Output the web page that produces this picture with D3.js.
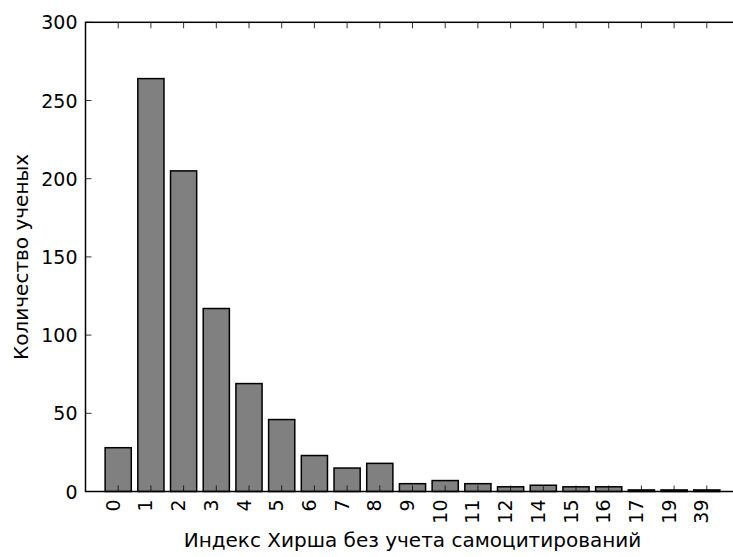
<!DOCTYPE html>
<html>
<head>
<meta charset="utf-8">
<script src="https://cdn.jsdelivr.net/npm/d3@7"></script>
<style>
  body { margin: 0; background: #fff; }
  svg text { font-family: "DejaVu Sans", sans-serif; fill: #000; }
</style>
</head>
<body>
<div id="chart"></div>
<script>
// Hirsch index histogram (without self-citations)

var categories = ["0", "1", "2", "3", "4", "5", "6", "7", "8", "9",
                  "10", "11", "12", "14", "15", "16", "17", "19", "39"];
var counts = [28, 264, 205, 117, 69, 46, 23, 15, 18, 5,
              7, 5, 3, 4, 3, 3, 1, 1, 1];
var yTicks = [0, 50, 100, 150, 200, 250, 300];

var width = 733, height = 557;
// note: "top" is taken by window.top, so plot edges get their own names
var plotLeft = 85.5, plotRight = 739.5, plotTop = 22.3, plotBottom = 491.5;

var svg = d3.select("#chart")
    .append("svg")
    .attr("width", width)
    .attr("height", height);

// x by bar index, y by count
var x = d3.scaleLinear().domain([-1, categories.length]).range([plotLeft, plotRight]);
var y = d3.scaleLinear().domain([0, 300]).range([plotBottom, plotTop]);
var barW = x(0.8) - x(0);

// bars
svg.selectAll("rect.bar")
    .data(counts)
    .enter()
    .append("rect")
    .attr("class", "bar")
    .attr("x", function(d, i) { return x(i) - barW / 2; })
    .attr("y", function(d) { return y(d); })
    .attr("width", barW)
    .attr("height", function(d) { return y(0) - y(d); })
    .style("fill", "#808080")
    .style("stroke", "#000")
    .style("stroke-width", 1.5);

// ticks, inward on all sides (classic style)
var tickLen = 6;
d3.range(categories.length).forEach(function(i) {
    svg.append("line")
        .attr("x1", x(i)).attr("x2", x(i))
        .attr("y1", plotBottom).attr("y2", plotBottom - tickLen)
        .style("stroke", "#000").style("stroke-width", 0.8);
    svg.append("line")
        .attr("x1", x(i)).attr("x2", x(i))
        .attr("y1", plotTop).attr("y2", plotTop + tickLen)
        .style("stroke", "#000").style("stroke-width", 0.8);
});
yTicks.forEach(function(v) {
    svg.append("line")
        .attr("x1", plotLeft).attr("x2", plotLeft + tickLen)
        .attr("y1", y(v)).attr("y2", y(v))
        .style("stroke", "#000").style("stroke-width", 0.8);
    svg.append("line")
        .attr("x1", plotRight).attr("x2", plotRight - tickLen)
        .attr("y1", y(v)).attr("y2", y(v))
        .style("stroke", "#000").style("stroke-width", 0.8);
});

// frame
svg.append("rect")
    .attr("x", plotLeft).attr("y", plotTop)
    .attr("width", plotRight - plotLeft).attr("height", plotBottom - plotTop)
    .style("fill", "none")
    .style("stroke", "#000")
    .style("stroke-width", 1.5);

// tick labels
svg.selectAll("text.xtick")
    .data(categories)
    .enter()
    .append("text")
    .attr("class", "xtick")
    .attr("transform", function(d, i) {
        return "translate(" + (x(i) + 1.5) + "," + (plotBottom + 8) + ") rotate(-90)";
    })
    .attr("text-anchor", "end")
    .style("font-size", "19px")
    .text(function(d) { return d; });

svg.selectAll("text.ytick")
    .data(yTicks)
    .enter()
    .append("text")
    .attr("class", "ytick")
    .attr("x", plotLeft - 8)
    .attr("y", function(d) { return y(d) + 7; })
    .attr("text-anchor", "end")
    .style("font-size", "19px")
    .text(function(d) { return d; });

// axis labels
svg.append("text")
    .attr("x", (plotLeft + plotRight) / 2)
    .attr("y", 547)
    .attr("text-anchor", "middle")
    .style("font-size", "20px")
    .text("Индекс Хирша без учета самоцитирований");

svg.append("text")
    .attr("transform", "translate(28," + ((plotTop + plotBottom) / 2) + ") rotate(-90)")
    .attr("text-anchor", "middle")
    .style("font-size", "20px")
    .text("Количество ученых");
</script>
</body>
</html>
